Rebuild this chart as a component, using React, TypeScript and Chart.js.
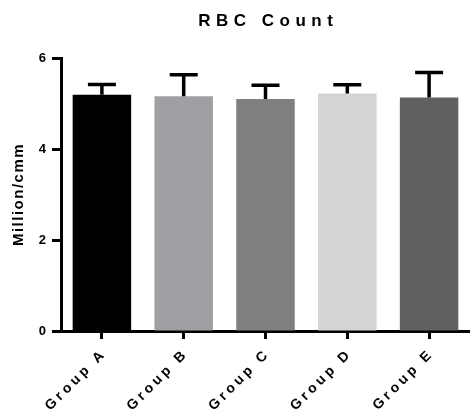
import React, { useEffect, useRef } from "react";
import { Chart, registerables, CategoryScale, LinearScale } from "chart.js";

// RBC count per group (million/cmm), mean with upward SD whisker
const groups = ["Group A", "Group B", "Group C", "Group D", "Group E"];
const meanValues = [5.19, 5.16, 5.1, 5.22, 5.13];
const sdValues = [0.23, 0.47, 0.3, 0.19, 0.55];
const barColors = ["#000000", "#a09fa4", "#808080", "#d4d4d4", "#616161"];
const yTicks = [0, 2, 4, 6];

const chartTitle = "RBC Count";
const yAxisTitle = "Million/cmm";

const FONT = "'Liberation Sans', Arial, Helvetica, sans-serif";
const X_LABEL_SPACING = 3.5;

// Category axis whose tick labels are drawn with extra letter spacing
class SpacedCategoryScale extends CategoryScale {
  static id = "spacedCategory";
  drawLabels(area: any) {
    const ctx = (this as any).ctx as CanvasRenderingContext2D;
    ctx.save();
    (ctx as any).letterSpacing = `${X_LABEL_SPACING}px`;
    // right-aligned text would otherwise carry the trailing spacing
    const d = X_LABEL_SPACING * Math.SQRT1_2;
    ctx.translate(d, -d);
    super.drawLabels(area);
    ctx.restore();
  }
}

// Linear axis whose title is drawn with extra letter spacing
class SpacedLinearScale extends LinearScale {
  static id = "spacedLinear";
  drawTitle() {
    const ctx = (this as any).ctx as CanvasRenderingContext2D;
    ctx.save();
    (ctx as any).letterSpacing = "1.5px";
    super.drawTitle();
    ctx.restore();
  }
}

Chart.register(...registerables, SpacedCategoryScale, SpacedLinearScale);

// Title centred over the plot area, widely letter-spaced
const spacedTitlePlugin = {
  id: "spacedTitle",
  afterDraw(chart: any) {
    const { ctx, chartArea } = chart;
    const spacing = 5.5;
    ctx.save();
    ctx.font = `bold 17px ${FONT}`;
    (ctx as any).letterSpacing = `${spacing}px`;
    ctx.fillStyle = "#000";
    ctx.textAlign = "left";
    ctx.textBaseline = "alphabetic";
    const w = ctx.measureText(chartTitle).width - spacing;
    const cx = (chartArea.left + chartArea.right) / 2;
    ctx.fillText(chartTitle, cx - w / 2, 26);
    ctx.restore();
  },
};

// Upward SD whiskers with a flat cap
const errorBarPlugin = {
  id: "errorBars",
  afterDatasetsDraw(chart: any) {
    const { ctx } = chart;
    const yScale = chart.scales.y;
    const meta = chart.getDatasetMeta(0);
    ctx.save();
    ctx.strokeStyle = "#000";
    ctx.lineWidth = 3.5;
    ctx.lineCap = "butt";
    meta.data.forEach((bar: any, i: number) => {
      const top = yScale.getPixelForValue(meanValues[i] + sdValues[i]);
      const half = 14;
      ctx.beginPath();
      ctx.moveTo(bar.x, bar.y);
      ctx.lineTo(bar.x, top);
      ctx.moveTo(bar.x - half, top);
      ctx.lineTo(bar.x + half, top);
      ctx.stroke();
    });
    ctx.restore();
  },
};

export default function App() {
  const canvasRef = useRef<HTMLCanvasElement | null>(null);

  useEffect(() => {
    const canvas = canvasRef.current;
    if (!canvas) return;
    Chart.defaults.font.family = FONT;
    Chart.defaults.color = "#000";

    const chart = new Chart(canvas, {
      type: "bar",
      data: {
        labels: groups,
        datasets: [
          {
            data: meanValues,
            backgroundColor: barColors,
            borderWidth: 0,
            barPercentage: 0.715,
            categoryPercentage: 1,
          },
        ],
      },
      options: {
        responsive: false,
        animation: false,
        layout: { padding: { top: 58, left: 0, right: 0, bottom: 0 } },
        plugins: {
          legend: { display: false },
          title: { display: false },
          tooltip: { enabled: false },
        },
        scales: {
          x: {
            type: "spacedCategory" as any,
            offset: true,
            z: 1,
            grid: {
              offset: false,
              drawOnChartArea: false,
              drawTicks: true,
              tickLength: 8,
              tickWidth: 3,
              tickColor: "#000",
            },
            border: { display: true, width: 3, color: "#000" },
            ticks: {
              minRotation: 45,
              maxRotation: 45,
              autoSkip: false,
              padding: 9,
              color: "#000",
              font: { size: 14, weight: "bold" },
            },
            afterFit(scale: any) {
              scale.height = 81;
              scale.paddingLeft = 0;
              scale.paddingRight = 0;
            },
          },
          y: {
            type: "spacedLinear" as any,
            min: 0,
            max: 6,
            z: 1,
            afterBuildTicks(scale: any) {
              scale.ticks = yTicks.map((v) => ({ value: v }));
            },
            grid: {
              drawOnChartArea: false,
              drawTicks: true,
              tickLength: 9,
              tickWidth: 3,
              tickColor: "#000",
            },
            border: { display: true, width: 3, color: "#000" },
            ticks: {
              padding: 6,
              color: "#000",
              font: { size: 13, weight: "bold" },
            },
            title: {
              display: true,
              text: yAxisTitle,
              color: "#000",
              font: { size: 15, weight: "bold" },
              padding: { top: 10, bottom: 0 },
            },
            afterFit(scale: any) {
              scale.width = 61;
              scale.paddingTop = 0;
              scale.paddingBottom = 0;
            },
          },
        },
      },
      plugins: [errorBarPlugin, spacedTitlePlugin],
    });

    return () => chart.destroy();
  }, []);

  return (
    <div style={{ position: "absolute", left: 0, top: 0, width: 470, height: 412, background: "#fff" }}>
      <canvas ref={canvasRef} width={470} height={412} style={{ display: "block" }} />
    </div>
  );
}
